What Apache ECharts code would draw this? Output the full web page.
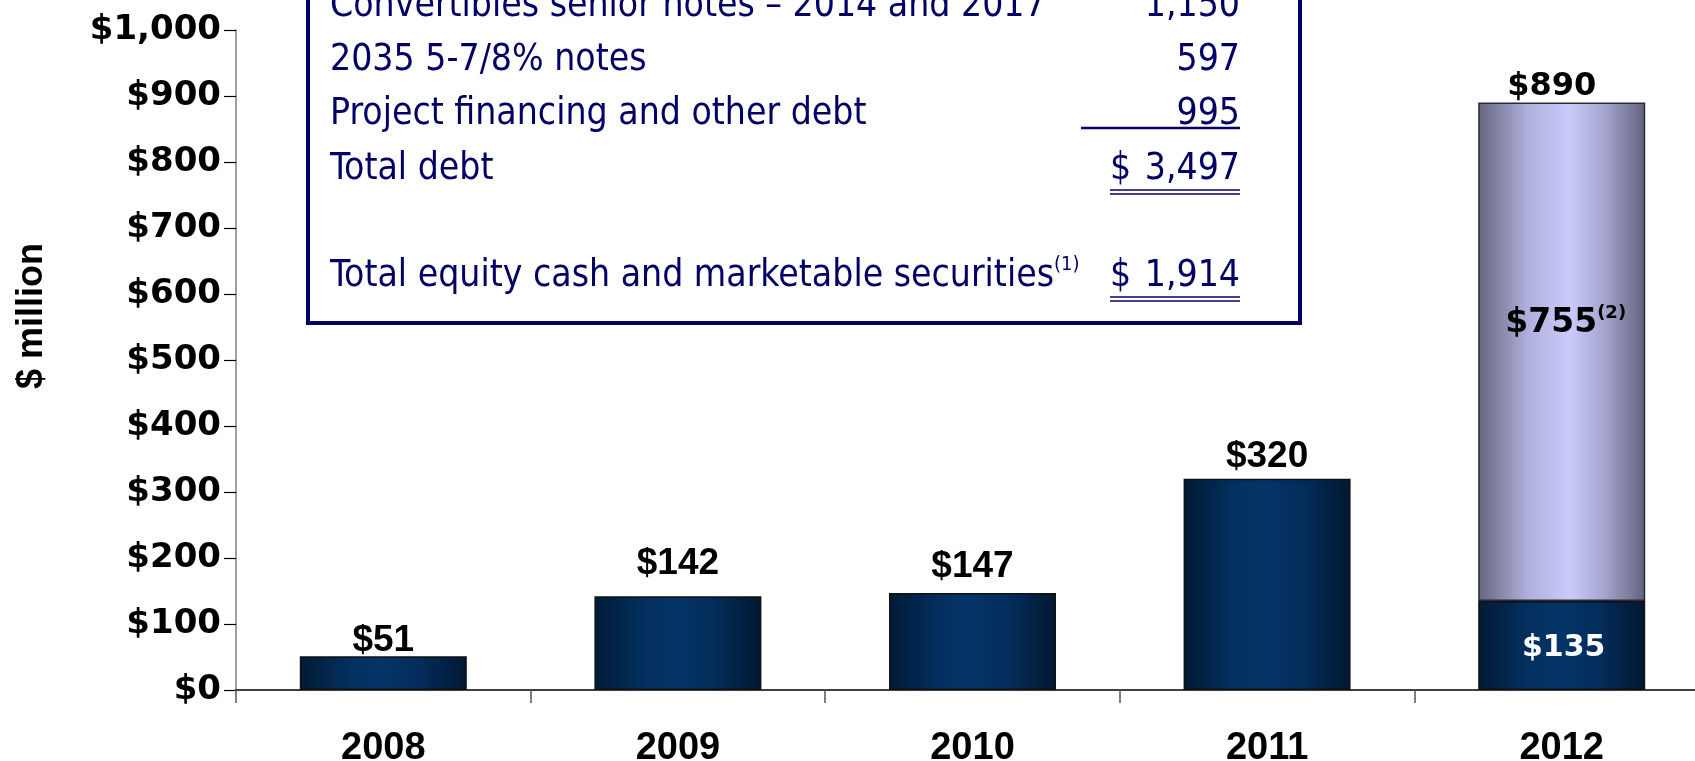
<!DOCTYPE html>
<html>
<head>
<meta charset="utf-8">
<title>Capital expenditure</title>
<script src="https://cdn.jsdelivr.net/npm/echarts@6/dist/echarts.min.js"></script>
<style>
html,body{margin:0;padding:0;background:#fff;}
#main{width:1695px;height:761px;}
</style>
</head>
<body>
<div id="main"></div>
<script>
// chart data
var years = ['2008', '2009', '2010', '2011', '2012'];
var baseValues = [51, 142, 147, 320, 135];
var extraValues = [null, null, null, null, 755];
var extraNote = '(2)';
// debt table
var debtNames = ['Convertibles senior notes – 2014 and 2017', '2035 5-7/8% notes', 'Project financing and other debt', 'Total debt'];
var debtAmounts = [1150, 597, 995, 3497];
var cashName = 'Total equity cash and marketable securities';
var cashNote = '(1)';
var cashAmount = 1914;

// label gaps above bars (style only)
var labelGap = [-3, 14, 8, 4, 0];

var totals = baseValues.map(function(v, i) { return v + (extraValues[i] || 0); });
var fmt = function(v) { return v.toLocaleString('en-US'); };

var navy = new echarts.graphic.LinearGradient(0, 0, 1, 0, [
	{offset: 0, color: '#021a36'},
	{offset: 0.3, color: '#03305f'},
	{offset: 0.5, color: '#043468'},
	{offset: 0.72, color: '#032d5a'},
	{offset: 1, color: '#011831'}
]);
var lavender = new echarts.graphic.LinearGradient(0, 0, 1, 0, [
	{offset: 0, color: '#66667f'},
	{offset: 0.3, color: '#b0b0de'},
	{offset: 0.55, color: '#cbcbfb'},
	{offset: 0.75, color: '#a6a6d2'},
	{offset: 1, color: '#62627c'}
]);

var tableFont = '"DejaVu Sans Condensed", "DejaVu Sans", sans-serif';
var tableColor = '#000066';
var tableSize = 37;
var rowY = [6, 60.5, 114, 169];
var cashY = 276;
var textLeft = 330, numRight = 1240, dollarLeft = 1110;

var graphics = [];
// table box
graphics.push({
	type: 'rect', z: 10,
	shape: {x: 308, y: -10, width: 992, height: 333},
	style: {fill: '#fff', stroke: tableColor, lineWidth: 4}
});
for (var i = 0; i < debtNames.length; i++) {
	graphics.push({
		type: 'text', z: 11, x: textLeft, y: rowY[i],
		style: {text: debtNames[i], fill: tableColor, fontSize: tableSize, fontFamily: tableFont, verticalAlign: 'middle'}
	});
	graphics.push({
		type: 'text', z: 11, x: numRight, y: rowY[i],
		style: {text: fmt(debtAmounts[i]), fill: tableColor, fontSize: tableSize, fontFamily: tableFont, align: 'right', verticalAlign: 'middle'}
	});
}
graphics.push({
	type: 'text', z: 11, x: dollarLeft, y: rowY[3],
	style: {text: '$', fill: tableColor, fontSize: tableSize, fontFamily: tableFont, verticalAlign: 'middle'}
});
graphics.push({
	type: 'text', z: 11, x: textLeft, y: cashY,
	style: {
		text: '{m|' + cashName + '}{s|' + cashNote + '}',
		fill: tableColor, verticalAlign: 'middle',
		rich: {
			m: {fontSize: tableSize, fontFamily: tableFont, fill: tableColor, lineHeight: 42},
			s: {fontSize: 20, fontFamily: tableFont, fill: tableColor, verticalAlign: 'top', lineHeight: 40}
		}
	}
});
graphics.push({
	type: 'text', z: 11, x: numRight, y: cashY,
	style: {text: fmt(cashAmount), fill: tableColor, fontSize: tableSize, fontFamily: tableFont, align: 'right', verticalAlign: 'middle'}
});
graphics.push({
	type: 'text', z: 11, x: dollarLeft, y: cashY,
	style: {text: '$', fill: tableColor, fontSize: tableSize, fontFamily: tableFont, verticalAlign: 'middle'}
});
// underlines
[[1081, 128, 2.4], [dollarLeft, 190, 1.6], [dollarLeft, 194, 1.6], [dollarLeft, 297, 1.6], [dollarLeft, 301, 1.6]].forEach(function(u) {
	graphics.push({
		type: 'line', z: 11,
		shape: {x1: u[0], y1: u[1], x2: numRight, y2: u[1]},
		style: {stroke: tableColor, lineWidth: u[2]}
	});
});
// y axis title
graphics.push({
	type: 'text', x: 32, y: 316, rotation: Math.PI / 2,
	style: {text: '$ million', fill: '#000', fontSize: 36, fontWeight: 'bold', fontFamily: '"Liberation Sans", Arial, sans-serif', align: 'center', verticalAlign: 'middle'}
});

var myChart = echarts.init(document.getElementById('main'));
var option = {
	animation: false,
	backgroundColor: '#fff',
	grid: {left: 236, right: -14, top: 30, bottom: 71, outerBoundsMode: 'none'},
	xAxis: {
		type: 'category',
		data: years,
		axisLine: {lineStyle: {color: '#000', width: 1.5}},
		axisTick: {show: true, length: 13, lineStyle: {color: '#555', width: 1.5}},
		axisLabel: {margin: 40, color: '#000', fontSize: 38, fontWeight: 'bold', fontFamily: '"Liberation Sans", Arial, sans-serif'}
	},
	yAxis: {
		type: 'value',
		min: 0, max: 1000, interval: 100,
		axisLine: {show: true, lineStyle: {color: '#808080', width: 1.5}},
		axisTick: {show: true, length: 12, lineStyle: {color: '#000', width: 1.2}},
		splitLine: {show: false},
		axisLabel: {
			margin: 15, color: '#000', fontSize: 34, fontWeight: 'bold', fontFamily: '"DejaVu Sans", sans-serif',
			formatter: function(v) { return '$' + fmt(v); }
		}
	},
	series: [
		{
			name: 'base',
			type: 'bar',
			stack: 'capex',
			barWidth: 167,
			itemStyle: {color: navy, borderColor: '#111', borderWidth: 1.5},
			data: baseValues.map(function(v, i) {
				if (extraValues[i] == null) return v;
				return {
					value: v,
					label: {
						show: true, position: 'inside', color: '#fff', offset: [2, 3],
						fontSize: 30, fontWeight: 'bold', fontFamily: '"DejaVu Sans", sans-serif',
						formatter: '$' + fmt(v)
					}
				};
			})
		},
		{
			name: 'extra',
			type: 'bar',
			stack: 'capex',
			barWidth: 167,
			itemStyle: {color: lavender, borderColor: '#2a2a3a', borderWidth: 1.5},
			label: {
				show: true, position: 'inside', offset: [4, -28],
				formatter: function(p) { return '{a|$' + fmt(p.value) + '}{b|' + extraNote + '}'; },
				rich: {
					a: {fontSize: 33, fontWeight: 'bold', fontFamily: '"DejaVu Sans", sans-serif', color: '#000', lineHeight: 38},
					b: {fontSize: 18, fontWeight: 'bold', fontFamily: '"DejaVu Sans", sans-serif', color: '#000', verticalAlign: 'top', lineHeight: 38}
				}
			},
			data: extraValues
		},
		{
			name: 'total',
			type: 'bar',
			stack: 'capex',
			barWidth: 167,
			itemStyle: {color: 'rgba(0,0,0,0)', borderWidth: 0},
			label: {
				show: true, position: 'top', color: '#000',
				fontSize: 37, fontWeight: 'bold', fontFamily: '"Liberation Sans", Arial, sans-serif',
				formatter: function(p) { return '$' + fmt(totals[p.dataIndex]); }
			},
			data: totals.map(function(t, i) {
				var item = {value: 0, label: {distance: labelGap[i]}};
				if (extraValues[i] != null) {
					item.label.fontFamily = '"DejaVu Sans", sans-serif';
					item.label.fontSize = 32;
					item.label.offset = [-10, 0];
				}
				return item;
			})
		}
	],
	graphic: graphics
};
myChart.setOption(option);
</script>
</body>
</html>
